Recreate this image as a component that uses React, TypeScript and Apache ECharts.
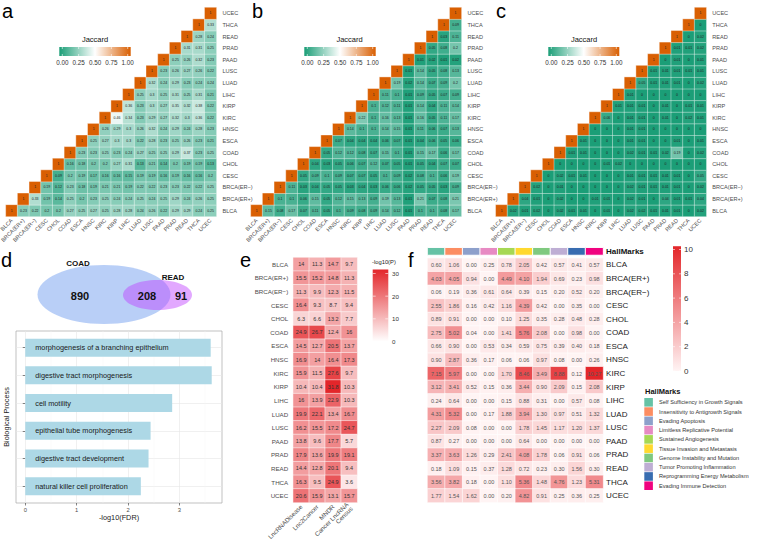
import React, { useEffect, useRef } from 'react';
import * as echarts from 'echarts';

const FONT = '"Liberation Sans", Arial, Helvetica, sans-serif';

const cancers = ['BLCA', 'BRCA(ER+)', 'BRCA(ER−)', 'CESC', 'CHOL', 'COAD', 'ESCA', 'HNSC', 'KIRC', 'KIRP', 'LIHC', 'LUAD', 'LUSC', 'PAAD', 'PRAD', 'READ', 'THCA', 'UCEC'];

// Jaccard rows (row cancer vs. all later cancers), panel a
const jaccardA = [
  [0.23, 0.22, 0.2, 0.2, 0.27, 0.25, 0.27, 0.25, 0.28, 0.28, 0.24, 0.26, 0.22, 0.29, 0.29, 0.24, 0.25],
  [0.33, 0.19, 0.14, 0.25, 0.2, 0.23, 0.25, 0.24, 0.24, 0.25, 0.24, 0.25, 0.29, 0.24, 0.26, 0.25],
  [0.19, 0.12, 0.23, 0.18, 0.19, 0.21, 0.21, 0.19, 0.22, 0.22, 0.23, 0.23, 0.22, 0.22, 0.25],
  [0.09, 0.2, 0.19, 0.17, 0.16, 0.16, 0.15, 0.19, 0.19, 0.16, 0.19, 0.16, 0.16, 0.2],
  [0.16, 0.18, 0.2, 0.2, 0.27, 0.31, 0.13, 0.21, 0.14, 0.2, 0.19, 0.19, 0.13],
  [0.23, 0.23, 0.25, 0.23, 0.24, 0.27, 0.25, 0.25, 0.29, 0.37, 0.23, 0.25],
  [0.25, 0.27, 0.3, 0.3, 0.22, 0.28, 0.23, 0.25, 0.26, 0.23, 0.21],
  [0.26, 0.29, 0.3, 0.26, 0.32, 0.24, 0.29, 0.24, 0.28, 0.23],
  [0.46, 0.34, 0.23, 0.29, 0.27, 0.32, 0.3, 0.36, 0.22],
  [0.36, 0.23, 0.3, 0.27, 0.35, 0.32, 0.38, 0.22],
  [0.25, 0.3, 0.25, 0.31, 0.25, 0.31, 0.21],
  [0.32, 0.24, 0.29, 0.23, 0.24, 0.24],
  [0.23, 0.26, 0.27, 0.26, 0.22],
  [0.25, 0.26, 0.32, 0.23],
  [0.31, 0.31, 0.25],
  [0.28, 0.24],
  [0.33],
  [],
];

// panel b
const jaccardB = [
  [0.15, 0.08, 0.17, 0.07, 0.11, 0.05, 0.1, 0.09, 0.08, 0.09, 0.14, 0.12, 0.01, 0.1, 0.1, 0.08, 0.17],
  [0.1, 0.1, 0.06, 0.15, 0.05, 0.12, 0.15, 0.13, 0.09, 0.19, 0.13, 0.01, 0.21, 0.07, 0.08, 0.21],
  [0.11, 0.03, 0.04, 0.05, 0.05, 0.03, 0.04, 0.03, 0.06, 0.06, 0.02, 0.05, 0.05, 0.03, 0.09],
  [0.05, 0.09, 0.1, 0.09, 0.07, 0.07, 0.05, 0.1, 0.09, 0.02, 0.08, 0.1, 0.06, 0.19],
  [0.04, 0.03, 0.05, 0.06, 0.07, 0.12, 0.07, 0.05, 0.01, 0.05, 0.04, 0.07, 0.07],
  [0.05, 0.12, 0.12, 0.08, 0.07, 0.15, 0.1, 0.01, 0.15, 0.17, 0.06, 0.17],
  [0.07, 0.04, 0.04, 0.04, 0.06, 0.07, 0.01, 0.04, 0.06, 0.05, 0.06],
  [0.14, 0.1, 0.1, 0.14, 0.15, 0.01, 0.11, 0.06, 0.07, 0.13],
  [0.22, 0.1, 0.16, 0.13, 0.01, 0.16, 0.05, 0.11, 0.17],
  [0.1, 0.12, 0.11, 0.01, 0.14, 0.04, 0.11, 0.14],
  [0.11, 0.1, 0.01, 0.09, 0.05, 0.07, 0.09],
  [0.19, 0.02, 0.14, 0.07, 0.09, 0.2],
  [0.01, 0.14, 0.05, 0.08, 0.13],
  [0.01, 0.02, 0.01, 0.02],
  [0.05, 0.08, 0.2],
  [0.03, 0.11],
  [0.09],
  [],
];

// panel c
const jaccardC = [
  [0.02, 0.01, 0.02, 0, 0.02, 0.01, 0.01, 0, 0.01, 0, 0.02, 0.02, 0.01, 0.01, 0.01, 0, 0.02],
  [0.04, 0.01, 0, 0.02, 0, 0, 0.01, 0.01, 0, 0.02, 0.01, 0, 0.04, 0.01, 0.01, 0.04],
  [0.02, 0, 0.01, 0, 0, 0, 0, 0, 0.02, 0.01, 0.01, 0.01, 0.01, 0, 0.02],
  [0, 0.02, 0.01, 0.01, 0, 0, 0, 0.01, 0.01, 0.01, 0.01, 0.01, 0, 0.05],
  [0, 0, 0, 0, 0.01, 0.02, 0, 0, 0, 0, 0, 0, 0],
  [0.01, 0.01, 0, 0, 0, 0.02, 0.01, 0.01, 0.02, 0.19, 0, 0.02],
  [0.01, 0, 0, 0, 0.01, 0.01, 0, 0, 0.01, 0, 0.01],
  [0, 0, 0, 0.01, 0.01, 0, 0, 0, 0, 0],
  [0.06, 0, 0.01, 0.01, 0, 0.01, 0, 0.02, 0.01],
  [0.01, 0.01, 0.01, 0, 0.01, 0, 0.01, 0.01],
  [0.01, 0, 0, 0, 0, 0, 0],
  [0.05, 0.01, 0.01, 0.01, 0, 0.02],
  [0.01, 0.01, 0.01, 0.01, 0.01],
  [0, 0.01, 0, 0.01],
  [0.01, 0.01, 0.02],
  [0, 0.02],
  [0],
  [],
];

const jaccardTicks = ['0.00', '0.25', '0.50', '0.75', '1.00'];

// panel d
const vennCOAD = 890;
const vennBoth = 208;
const vennREAD = 91;
const processes = ['morphogenesis of a branching epithelium', 'digestive tract morphogenesis', 'cell motility', 'epithelial tube morphogenesis', 'digestive tract development', 'natural killer cell proliferation'];
const processFDR = [3.61, 3.63, 2.86, 2.44, 2.4, 2.25];
const fdrTicks = [0, 1, 2, 3];

// panel e
const databases = ['LncRNADisease', 'Lnc2Cancer', 'MNDR', 'Cancer LncRNA\nCensus'];
const lncRNADisease = [14, 15.5, 11.3, 16.4, 6.3, 24.9, 14.5, 16.9, 15.9, 10.4, 16, 19.9, 16.2, 13.8, 17.9, 14.4, 16.3, 20.6];
const lnc2Cancer = [11.3, 15.2, 9.9, 9.3, 6.6, 26.7, 12.7, 14, 11.5, 10.4, 13.9, 22.1, 15.5, 9.6, 13.6, 12.8, 9.5, 15.9];
const mndr = [14.7, 14.8, 12.3, 8.7, 13.2, 12.4, 20.5, 16.4, 27.6, 31.8, 22.9, 13.4, 17.2, 17.7, 19.9, 20.1, 24.9, 13.1];
const cancerLncRNACensus = [9.7, 11.3, 11.5, 9.4, 7.7, 16, 13.7, 17.3, 9.7, 10.3, 10.3, 16.7, 24.7, 5.7, 19.1, 9.4, 3.6, 15.7];
const pTicks = [0, 10, 20, 30];

// panel f
const hallmarks = ['Self Sufficiency in Growth Signals', 'Insensitivity to Antigrowth Signals', 'Evading Apoptosis', 'Limitless Replicative Potential', 'Sustained Angiogenesis', 'Tissue Invasion and Metastasis', 'Genome Instability and Mutation', 'Tumor Promoting Inflammation', 'Reprogramming Energy Metabolism', 'Evading Immune Detection'];
const hallmarkColors = ['#66C2A5', '#FC8D62', '#8DA0CB', '#E78AC3', '#A6D854', '#FFD92F', '#7FC97F', '#BEAED4', '#386CB0', '#F0027F'];
const hallmarkScores = [
  [0.60, 1.06, 0.00, 0.25, 0.78, 2.05, 0.42, 0.57, 0.41, 0.57],
  [4.03, 4.05, 0.94, 0.00, 4.49, 4.10, 1.94, 0.69, 0.23, 0.98],
  [0.06, 0.19, 0.36, 0.61, 0.64, 0.39, 0.15, 0.20, 0.52, 0.20],
  [2.55, 1.86, 0.16, 0.42, 1.16, 4.39, 0.42, 0.00, 0.35, 0.00],
  [0.89, 0.91, 0.00, 0.00, 0.10, 1.25, 0.35, 0.28, 0.48, 0.28],
  [2.75, 5.02, 0.04, 0.00, 1.41, 5.76, 2.08, 0.00, 0.98, 0.00],
  [0.66, 0.90, 0.00, 0.53, 0.34, 0.59, 0.75, 0.39, 0.40, 0.18],
  [0.90, 2.87, 0.36, 0.17, 0.06, 0.06, 0.97, 0.08, 0.00, 0.26],
  [7.15, 5.97, 0.00, 0.00, 1.70, 8.46, 3.49, 8.88, 0.12, 10.27],
  [3.12, 3.41, 0.52, 0.15, 0.36, 3.44, 0.90, 2.09, 0.15, 2.08],
  [0.24, 0.64, 0.00, 0.00, 0.15, 0.88, 0.31, 0.00, 0.57, 0.08],
  [4.31, 5.32, 0.00, 0.17, 1.88, 3.94, 1.30, 0.97, 0.51, 1.32],
  [2.27, 2.09, 0.08, 0.00, 0.00, 1.78, 1.45, 1.17, 1.20, 1.37],
  [0.87, 0.27, 0.00, 0.00, 0.00, 0.64, 0.00, 0.00, 0.00, 0.00],
  [3.37, 3.63, 1.26, 0.29, 2.41, 4.08, 1.78, 0.06, 0.91, 0.06],
  [0.18, 1.09, 0.15, 0.37, 1.28, 0.72, 0.23, 0.30, 1.56, 0.30],
  [3.56, 3.82, 0.18, 0.00, 1.10, 5.36, 1.48, 4.76, 1.23, 5.31],
  [1.77, 1.54, 1.62, 0.00, 0.20, 4.82, 0.91, 0.25, 0.36, 0.25],
];
const hallTicks = [0, 2, 4, 6, 8, 10];

const JAC_LOW = '#1B9E77';
const JAC_HIGH = '#D95F02';
const RED = '#E3262A';

function triData(rows: number[][]) {
  const out: number[][] = [];
  for (let i = 0; i < cancers.length; i++) {
    out.push([i, i, 1]);
    (rows[i] || []).forEach((v, k) => out.push([i + 1 + k, i, v]));
  }
  return out;
}

function txt(x: number, y: number, text: string, fontSize: number, o: any = {}) {
  const align = o.align || 'left';
  const va = o.va || 'middle';
  return {
    type: 'text', x, y, silent: true, rotation: o.rotation || 0,
    style: {
      text, fontSize, fontFamily: FONT, fill: o.fill || '#222',
      fontWeight: o.bold ? 'bold' : 'normal',
      align, verticalAlign: va, textAlign: align, textVerticalAlign: va,
    },
  };
}

function jaccardLegend(x0: number, x1: number, titleX: number) {
  const y0 = 47, h = 9;
  const els: any[] = [];
  els.push(txt(titleX, 39, 'Jaccard', 7.5, { align: 'center', fill: '#111' }));
  els.push({
    type: 'rect', silent: true, shape: { x: x0, y: y0, width: x1 - x0, height: h },
    style: {
      fill: { type: 'linear', x: 0, y: 0, x2: 1, y2: 0, colorStops: [
        { offset: 0, color: JAC_LOW }, { offset: 0.5, color: '#ffffff' }, { offset: 1, color: JAC_HIGH }] },
    },
  });
  const a = x0 + 3, b = x1 - 3;
  jaccardTicks.forEach((t, k) => {
    const x = a + (k * (b - a)) / (jaccardTicks.length - 1);
    els.push({ type: 'line', silent: true, shape: { x1: x, y1: y0, x2: x, y2: y0 + 2 }, style: { stroke: '#fff', lineWidth: 0.6 } });
    els.push({ type: 'line', silent: true, shape: { x1: x, y1: y0 + h - 2, x2: x, y2: y0 + h }, style: { stroke: '#fff', lineWidth: 0.6 } });
    els.push(txt(x, 62, t, 6.3, { align: 'center', fill: '#333' }));
  });
  return els;
}

function vBar(x: number, yTop: number, yBot: number, w: number, low: string, high: string) {
  return {
    type: 'rect', silent: true, shape: { x, y: yTop, width: w, height: yBot - yTop },
    style: { fill: { type: 'linear', x: 0, y: 0, x2: 0, y2: 1, colorStops: [{ offset: 0, color: high }, { offset: 1, color: low }] } },
  };
}

function buildOption() {
  const triGrid = (left: number) => ({ left, top: 7.5, width: 210.5, height: 209, outerBoundsMode: 'none' });
  const triX = (gi: number) => ({
    type: 'category', gridIndex: gi, data: cancers, position: 'bottom',
    axisLine: { show: false }, axisTick: { show: false }, splitLine: { show: false },
    axisLabel: { interval: 0, rotate: 45, fontSize: 5.6, color: '#4d4d4d', margin: 3, fontFamily: FONT },
  });
  const triY = (gi: number) => ({
    type: 'category', gridIndex: gi, data: cancers, position: 'right',
    axisLine: { show: false }, axisTick: { show: false }, splitLine: { show: false },
    axisLabel: { interval: 0, fontSize: 5.6, color: '#4d4d4d', margin: 6, fontFamily: FONT },
  });
  const triSeries = (gi: number, rows: number[][]) => ({
    type: 'heatmap', xAxisIndex: gi, yAxisIndex: gi, data: triData(rows),
    itemStyle: { borderColor: '#fff', borderWidth: 0.4 },
    label: { show: true, fontSize: 3.5, color: '#222', fontFamily: FONT, formatter: (p: any) => String(p.value[2]) },
    emphasis: { disabled: true },
  });

  const eData: number[][] = [];
  [lncRNADisease, lnc2Cancer, mndr, cancerLncRNACensus].forEach((col, j) => col.forEach((v, i) => eData.push([j, i, v])));
  const fData: number[][] = [];
  hallmarkScores.forEach((row, i) => row.forEach((v, j) => fData.push([j, i, v])));
  const headerData = hallmarks.map((h, j) => [j, 0, j]);

  const graphic: any[] = [];
  // panel letters
  graphic.push(txt(2, 1, 'a', 20, { va: 'top', fill: '#000' }));
  graphic.push(txt(252, 1, 'b', 20, { va: 'top', fill: '#000' }));
  graphic.push(txt(496, 1, 'c', 20, { va: 'top', fill: '#000' }));
  graphic.push(txt(1, 250, 'd', 20, { va: 'top', fill: '#000' }));
  graphic.push(txt(240, 250, 'e', 20, { va: 'top', fill: '#000' }));
  graphic.push(txt(408, 250, 'f', 20, { va: 'top', fill: '#000' }));
  // jaccard legends
  graphic.push(...jaccardLegend(59.3, 130.7, 95));
  graphic.push(...jaccardLegend(304.3, 375.7, 349.5));
  graphic.push(...jaccardLegend(548.3, 619.3, 584));
  // venn
  graphic.push({ type: 'ellipse', silent: true, shape: { cx: 104, cy: 294.5, rx: 66.5, ry: 29.5 }, style: { fill: 'rgba(100,149,237,0.45)' } });
  graphic.push({ type: 'ellipse', silent: true, shape: { cx: 157.5, cy: 295, rx: 34.5, ry: 15 }, style: { fill: 'rgba(191,62,255,0.45)' } });
  graphic.push(txt(78, 263, 'COAD', 8, { align: 'center', bold: true, fill: '#111' }));
  graphic.push(txt(173, 277, 'READ', 8, { align: 'center', bold: true, fill: '#111' }));
  graphic.push(txt(80, 296, String(vennCOAD), 11, { align: 'center', bold: true, fill: '#111' }));
  graphic.push(txt(147, 296, String(vennBoth), 11, { align: 'center', bold: true, fill: '#111' }));
  graphic.push(txt(181, 296, String(vennREAD), 11, { align: 'center', bold: true, fill: '#111' }));
  // e colorbar
  const eZero = 341.5, ePer = 2.267;
  graphic.push(txt(372, 262, '-log10(P)', 5.8, { fill: '#222' }));
  graphic.push(vBar(372.7, eZero - 31.8 * ePer, eZero, 15.6, '#ffffff', RED));
  pTicks.forEach((t) => {
    const y = eZero - t * ePer;
    graphic.push({ type: 'line', silent: true, shape: { x1: 372.7, y1: y, x2: 375.7, y2: y }, style: { stroke: '#fff', lineWidth: 0.6 } });
    graphic.push({ type: 'line', silent: true, shape: { x1: 385.3, y1: y, x2: 388.3, y2: y }, style: { stroke: '#fff', lineWidth: 0.6 } });
    graphic.push(txt(392, y, String(t), 6.2, { fill: '#333' }));
  });
  // f colorbar
  const fZero = 371, fPer = 12.15;
  graphic.push(vBar(673, fZero - 10.27 * fPer, fZero, 8, '#fff4f4', RED));
  hallTicks.forEach((t) => {
    const y = fZero - t * fPer;
    graphic.push({ type: 'line', silent: true, shape: { x1: 673, y1: y, x2: 675, y2: y }, style: { stroke: '#fff', lineWidth: 0.6 } });
    graphic.push({ type: 'line', silent: true, shape: { x1: 679, y1: y, x2: 681, y2: y }, style: { stroke: '#fff', lineWidth: 0.6 } });
    graphic.push(txt(684, y, String(t), 8, { fill: '#333' }));
  });
  // f header label and legend
  graphic.push(txt(606, 251.3, 'HallMarks', 8, { bold: true, fill: '#111' }));
  graphic.push(txt(645, 391, 'HallMarks', 7.5, { bold: true, fill: '#111' }));
  hallmarks.forEach((h, k) => {
    const cy = 402.3 + k * 9.27;
    graphic.push({ type: 'rect', silent: true, shape: { x: 644.3, y: cy - 4.3, width: 8.6, height: 8.6 }, style: { fill: hallmarkColors[k] } });
    graphic.push(txt(659, cy, h, 5.6, { fill: '#333' }));
  });

  return {
    animation: false,
    backgroundColor: '#ffffff',
    textStyle: { fontFamily: FONT, color: '#333' },
    grid: [
      triGrid(5.9),
      triGrid(250.9),
      triGrid(495.8),
      { left: 16, top: 331, width: 206, height: 172, show: true, borderColor: '#a6a6a6', borderWidth: 0.7, backgroundColor: '#fff', outerBoundsMode: 'none' },
      { left: 16, top: 333.8, width: 206, height: 166.2, outerBoundsMode: 'none' },
      { left: 293.2, top: 257.5, width: 64, height: 245, outerBoundsMode: 'none' },
      { left: 427.5, top: 258.2, width: 175.6, height: 244.3, outerBoundsMode: 'none' },
      { left: 427.5, top: 247.7, width: 175.6, height: 7.3, outerBoundsMode: 'none' },
    ],
    xAxis: [
      triX(0), triX(1), triX(2),
      {
        type: 'value', gridIndex: 3, min: -0.18, max: 3.83, position: 'bottom',
        name: '-log10(FDR)', nameLocation: 'middle', nameGap: 11,
        nameTextStyle: { fontSize: 7.3, color: '#222', fontFamily: FONT },
        axisLine: { show: false },
        axisTick: { show: true, length: 2.5, lineStyle: { color: '#333', width: 0.6 }, customValues: fdrTicks },
        axisLabel: { show: true, fontSize: 5.8, color: '#4d4d4d', margin: 3.5, customValues: fdrTicks, fontFamily: FONT },
        splitLine: { show: true, lineStyle: { color: '#e6e6e6', width: 0.6 } },
      },
      {
        type: 'value', gridIndex: 3, min: -0.18, max: 3.83, position: 'top',
        axisLine: { show: false },
        axisTick: { show: false, customValues: [0.5, 1.5, 2.5, 3.5] },
        axisLabel: { show: false },
        splitLine: { show: true, lineStyle: { color: '#f3f3f3', width: 0.4 } },
      },
      { type: 'value', gridIndex: 4, min: -0.18, max: 3.83, show: false },
      {
        type: 'category', gridIndex: 5, data: databases, position: 'bottom',
        axisLine: { show: false }, axisTick: { show: false },
        axisLabel: { interval: 0, rotate: 45, fontSize: 6.2, color: '#4d4d4d', margin: 3, fontFamily: FONT },
      },
      { type: 'category', gridIndex: 6, data: hallmarks, show: false },
      { type: 'category', gridIndex: 7, data: hallmarks, show: false },
    ],
    yAxis: [
      triY(0), triY(1), triY(2),
      {
        type: 'value', gridIndex: 3, min: 0.4, max: 6.6, inverse: true,
        name: 'Biological Process', nameLocation: 'middle', nameGap: 6, nameRotate: 90,
        nameTextStyle: { fontSize: 7.3, color: '#222', fontFamily: FONT },
        axisLine: { show: false },
        axisTick: { show: true, length: 2.5, lineStyle: { color: '#333', width: 0.6 }, customValues: [1, 2, 3, 4, 5, 6] },
        axisLabel: { show: false },
        splitLine: { show: true, lineStyle: { color: '#e6e6e6', width: 0.6 } },
      },
      { type: 'category', gridIndex: 4, data: processes, inverse: true, show: false },
      {
        type: 'category', gridIndex: 5, data: cancers, inverse: true, position: 'left',
        axisLine: { show: false }, axisTick: { show: false },
        axisLabel: { interval: 0, fontSize: 6.2, color: '#4d4d4d', margin: 5, fontFamily: FONT },
      },
      {
        type: 'category', gridIndex: 6, data: cancers, inverse: true, position: 'right',
        axisLine: { show: false }, axisTick: { show: false },
        axisLabel: { interval: 0, fontSize: 8, color: '#1a1a1a', margin: 3, fontFamily: FONT },
      },
      { type: 'category', gridIndex: 7, data: ['HallMarks'], show: false },
    ],
    visualMap: [
      { type: 'continuous', show: false, seriesIndex: [0, 1, 2], dimension: 2, min: 0, max: 1, inRange: { color: [JAC_LOW, '#ffffff', JAC_HIGH] } },
      { type: 'continuous', show: false, seriesIndex: 4, dimension: 2, min: 0, max: 31.8, inRange: { color: ['#ffffff', RED] } },
      { type: 'continuous', show: false, seriesIndex: 5, dimension: 2, min: 0, max: 10.27, inRange: { color: ['#fff4f4', RED] } },
      { type: 'piecewise', show: false, seriesIndex: 6, dimension: 2, pieces: hallmarkColors.map((c, j) => ({ value: j, color: c })) },
    ],
    graphic: { elements: graphic },
    series: [
      triSeries(0, jaccardA),
      triSeries(1, jaccardB),
      triSeries(2, jaccardC),
      {
        type: 'bar', xAxisIndex: 5, yAxisIndex: 4, data: processFDR, barWidth: 18,
        itemStyle: { color: '#ADD8E6' },
        label: {
          show: true, position: 'insideLeft', distance: 10, fontSize: 7.3, color: '#1a1a1a', fontFamily: FONT,
          formatter: (p: any) => p.name,
        },
        emphasis: { disabled: true },
      },
      {
        type: 'heatmap', xAxisIndex: 6, yAxisIndex: 5, data: eData,
        itemStyle: { borderColor: '#fff', borderWidth: 0.5 },
        label: { show: true, fontSize: 5.5, color: '#333', fontFamily: FONT, formatter: (p: any) => String(p.value[2]) },
        emphasis: { disabled: true },
      },
      {
        type: 'heatmap', xAxisIndex: 7, yAxisIndex: 6, data: fData,
        itemStyle: { borderColor: '#fff', borderWidth: 0.6 },
        label: { show: true, fontSize: 5.5, color: '#555', fontFamily: FONT, formatter: (p: any) => p.value[2].toFixed(2) },
        emphasis: { disabled: true },
      },
      {
        type: 'heatmap', xAxisIndex: 8, yAxisIndex: 7, data: headerData,
        itemStyle: { borderColor: '#fff', borderWidth: 1 },
        emphasis: { disabled: true },
      },
    ],
  };
}

export default function App() {
  const ref = useRef<HTMLDivElement>(null);
  useEffect(() => {
    if (!ref.current) return;
    const chart = echarts.init(ref.current, null, { renderer: 'svg' });
    chart.setOption(buildOption() as any);
    return () => chart.dispose();
  }, []);
  return <div ref={ref} style={{ position: 'fixed', left: 0, top: 0, width: 760, height: 543, background: '#fff' }} />;
}
